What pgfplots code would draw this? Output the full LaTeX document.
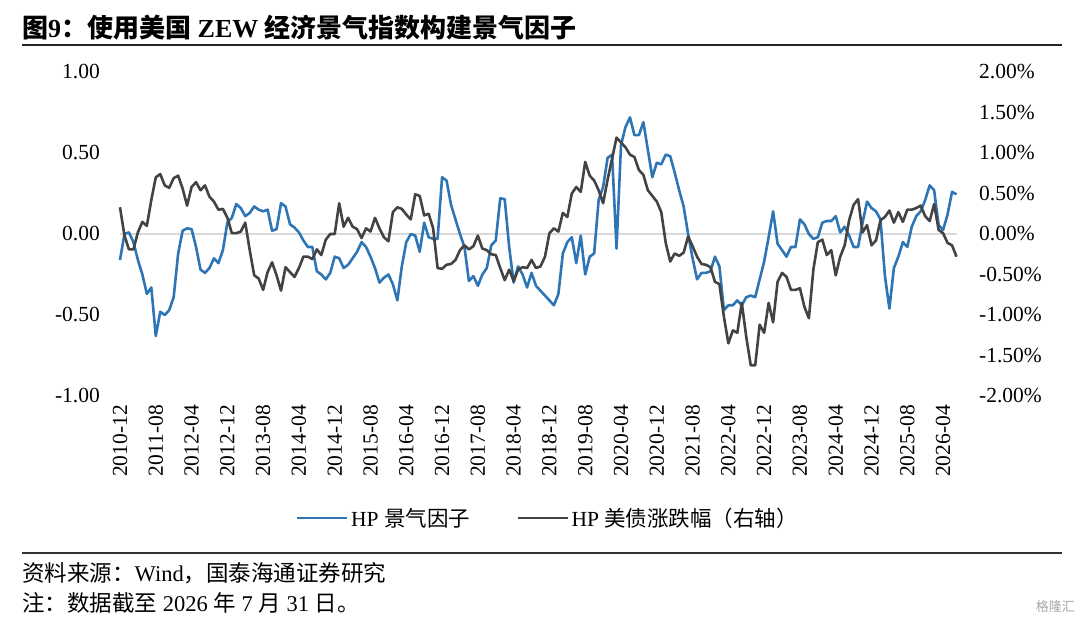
\documentclass[border=0pt]{standalone}
\usepackage{fontspec}
\setmainfont{Liberation Serif}
\newfontfamily\cjk{Noto Sans CJK SC}
\usepackage{pgfplots}
\usepackage{pgfplotstable}
\pgfplotsset{compat=1.18}
\definecolor{hpblue}{RGB}{46,117,182}
\definecolor{hpgray}{RGB}{67,67,67}
\definecolor{zerol}{RGB}{217,217,217}

\pgfplotstableread{
i hp bond
0 -0.16 0.33
1 0.00 -0.02
2 0.01 -0.19
3 -0.05 -0.19
4 -0.16 0.02
5 -0.25 0.15
6 -0.37 0.10
7 -0.33 0.42
8 -0.63 0.70
9 -0.48 0.74
10 -0.50 0.60
11 -0.47 0.57
12 -0.39 0.69
13 -0.12 0.72
14 0.02 0.56
15 0.035 0.35
16 0.03 0.58
17 -0.08 0.64
18 -0.22 0.54
19 -0.24 0.60
20 -0.21 0.46
21 -0.15 0.40
22 -0.18 0.30
23 -0.10 0.31
24 0.07 0.20
25 0.10 0.01
26 0.185 0.01
27 0.16 0.03
28 0.11 0.14
29 0.13 -0.20
30 0.17 -0.51
31 0.15 -0.55
32 0.14 -0.69
33 0.15 -0.47
34 0.02 -0.35
35 0.03 -0.51
36 0.19 -0.70
37 0.17 -0.41
38 0.06 -0.47
39 0.04 -0.53
40 0.01 -0.42
41 -0.04 -0.28
42 -0.08 -0.28
43 -0.08 -0.31
44 -0.23 -0.19
45 -0.25 -0.26
46 -0.28 -0.07
47 -0.24 0.00
48 -0.14 0.00
49 -0.15 0.38
50 -0.21 0.09
51 -0.19 0.20
52 -0.15 0.09
53 -0.11 0.06
54 -0.05 -0.05
55 -0.08 0.07
56 -0.14 0.03
57 -0.21 0.20
58 -0.30 0.07
59 -0.27 -0.04
60 -0.25 -0.09
61 -0.31 0.27
62 -0.41 0.33
63 -0.20 0.31
64 -0.05 0.24
65 0.00 0.18
66 -0.01 0.49
67 -0.11 0.47
68 0.07 0.23
69 -0.02 0.25
70 -0.03 0.07
71 -0.03 -0.42
72 0.35 -0.43
73 0.33 -0.38
74 0.18 -0.37
75 0.09 -0.32
76 0.00 -0.20
77 -0.08 -0.14
78 -0.29 -0.19
79 -0.26 -0.15
80 -0.32 -0.02
81 -0.25 -0.18
82 -0.21 -0.20
83 -0.07 -0.25
84 -0.04 -0.26
85 0.22 -0.42
86 0.215 -0.57
87 -0.08 -0.44
88 -0.30 -0.58
89 -0.20 -0.44
90 -0.25 -0.41
91 -0.33 -0.42
92 -0.24 -0.32
93 -0.32 -0.42
94 -0.35 -0.40
95 -0.38 -0.28
96 -0.41 0.01
97 -0.44 0.07
98 -0.37 0.03
99 -0.12 0.26
100 -0.05 0.21
101 -0.02 0.50
102 -0.18 0.58
103 -0.01 0.52
104 -0.25 0.89
105 -0.14 0.72
106 -0.12 0.66
107 0.21 0.54
108 0.29 0.38
109 0.47 0.67
110 0.49 0.93
111 -0.09 1.19
112 0.55 1.13
113 0.66 1.07
114 0.72 0.98
115 0.61 0.95
116 0.61 0.79
117 0.69 0.73
118 0.52 0.54
119 0.35 0.47
120 0.44 0.40
121 0.43 0.27
122 0.49 -0.11
123 0.48 -0.34
124 0.38 -0.24
125 0.27 -0.27
126 0.17 -0.23
127 0.00 -0.03
128 -0.15 -0.15
129 -0.28 -0.28
130 -0.24 -0.37
131 -0.24 -0.38
132 -0.23 -0.41
133 -0.14 -0.59
134 -0.20 -0.62
135 -0.47 -1.02
136 -0.44 -1.35
137 -0.44 -1.19
138 -0.41 -1.22
139 -0.44 -0.85
140 -0.39 -1.27
141 -0.38 -1.62
142 -0.39 -1.62
143 -0.28 -1.12
144 -0.17 -1.22
145 -0.02 -0.85
146 0.14 -1.09
147 -0.06 -0.59
148 -0.10 -0.48
149 -0.14 -0.53
150 -0.08 -0.69
151 -0.08 -0.69
152 0.09 -0.67
153 0.06 -0.90
154 0.00 -1.04
155 -0.03 -0.44
156 -0.02 -0.10
157 0.07 -0.07
158 0.08 -0.26
159 0.08 -0.20
160 0.11 -0.51
161 0.01 -0.28
162 0.045 -0.14
163 -0.01 0.17
164 -0.08 0.36
165 -0.08 0.43
166 0.07 0.02
167 0.20 0.11
168 0.16 -0.14
169 0.14 -0.08
170 0.09 0.17
171 -0.26 0.21
172 -0.46 0.29
173 -0.21 0.14
174 -0.14 0.27
175 -0.05 0.15
176 -0.08 0.30
177 0.045 0.30
178 0.11 0.32
179 0.14 0.35
180 0.21 0.22
181 0.30 0.16
182 0.27 0.37
183 0.055 0.05
184 0.025 0.01
185 0.12 -0.11
186 0.26 -0.14
187 0.245 -0.28
}\data

\pgfplotsset{
  common/.style={
    at={(120bp,225bp)}, anchor=south west, scale only axis,
    width=836.5bp, height=324bp,
    xmin=0, xmax=187,
    axis line style={draw=none}, tick style={draw=none}, major tick length=0pt,
    ticklabel style={font=\fontsize{21.5bp}{24bp}\selectfont, inner sep=0pt},
    clip=false,
  }
}

\begin{document}
\begin{tikzpicture}
\path[use as bounding box] (0,0) rectangle (1080bp,621bp);
% title
\node[anchor=base west, inner sep=0pt] at (22bp,583bp)
  {\fontsize{26bp}{30bp}\selectfont\bfseries {\cjk 图}9{\cjk ：使用美国} ZEW {\cjk 经济景气指数构建景气因子}};
\draw[line width=1.5bp, black!85] (22bp,576bp) -- (1062bp,576bp);

\begin{axis}[common,
  ymin=-1, ymax=1,
  axis y line*=left, axis x line*=bottom,
  ytick={-1,-0.5,0,0.5,1},
  yticklabel style={/pgf/number format/.cd, fixed, fixed zerofill, precision=2, assume math mode=true},
  yticklabel shift=20bp,
  xtick={0,8,...,184},
  xticklabels={2010-12,2011-08,2012-04,2012-12,2013-08,2014-04,2014-12,2015-08,2016-04,2016-12,2017-08,2018-04,2018-12,2019-08,2020-04,2020-12,2021-08,2022-04,2022-12,2023-08,2024-04,2024-12,2025-08,2026-04},
  xticklabel style={rotate=90, anchor=east},
  xticklabel shift=9bp,
]
\addplot[zerol, line width=1.6bp, forget plot] coordinates {(0,0) (187,0)};
\addplot[hpblue, line width=2.6bp, line join=round] table[x=i, y=hp] {\data};
\end{axis}

\begin{axis}[common,
  ymin=-2, ymax=2,
  axis y line*=right, hide x axis,
  ytick={-2,-1.5,-1,-0.5,0,0.5,1,1.5,2},
  yticklabel={\pgfmathprintnumber[fixed,fixed zerofill,precision=2,assume math mode=true]{\tick}\%},
  yticklabel style={anchor=west},
  yticklabel shift=22.5bp,
  legend style={at={(0.512,-0.3765)}, anchor=center, draw=none, fill=none,
    font=\fontsize{21.5bp}{24bp}\selectfont, legend columns=2,
    /tikz/every even column/.append style={column sep=44bp},
    nodes={inner sep=2.5bp}},
  legend image code/.code={\draw[#1] (0bp,0bp) -- (50bp,0bp);},
]
\addlegendimage{hpblue, line width=2.6bp}
\addlegendentry{HP {\cjk 景气因子}}
\addplot[hpgray, line width=2.6bp, line join=round] table[x=i, y=bond] {\data};
\addlegendentry{HP {\cjk 美债涨跌幅（右轴）}}
\end{axis}

\draw[line width=1.2bp, black!80] (22bp,68bp) -- (1062bp,68bp);
\node[anchor=west, inner sep=0pt] at (22bp,48bp)
  {\fontsize{22.5bp}{26bp}\selectfont {\cjk 资料来源：}Wind{\cjk ，国泰海通证券研究}};
\node[anchor=west, inner sep=0pt] at (22bp,18bp)
  {\fontsize{22.5bp}{26bp}\selectfont {\cjk 注：数据截至} 2026 {\cjk 年} 7 {\cjk 月} 31 {\cjk 日。}};
\node[anchor=east, inner sep=0pt, text=black!35] at (1075bp,14bp)
  {\fontsize{13bp}{14bp}\selectfont\cjk 格隆汇};
\end{tikzpicture}
\end{document}
